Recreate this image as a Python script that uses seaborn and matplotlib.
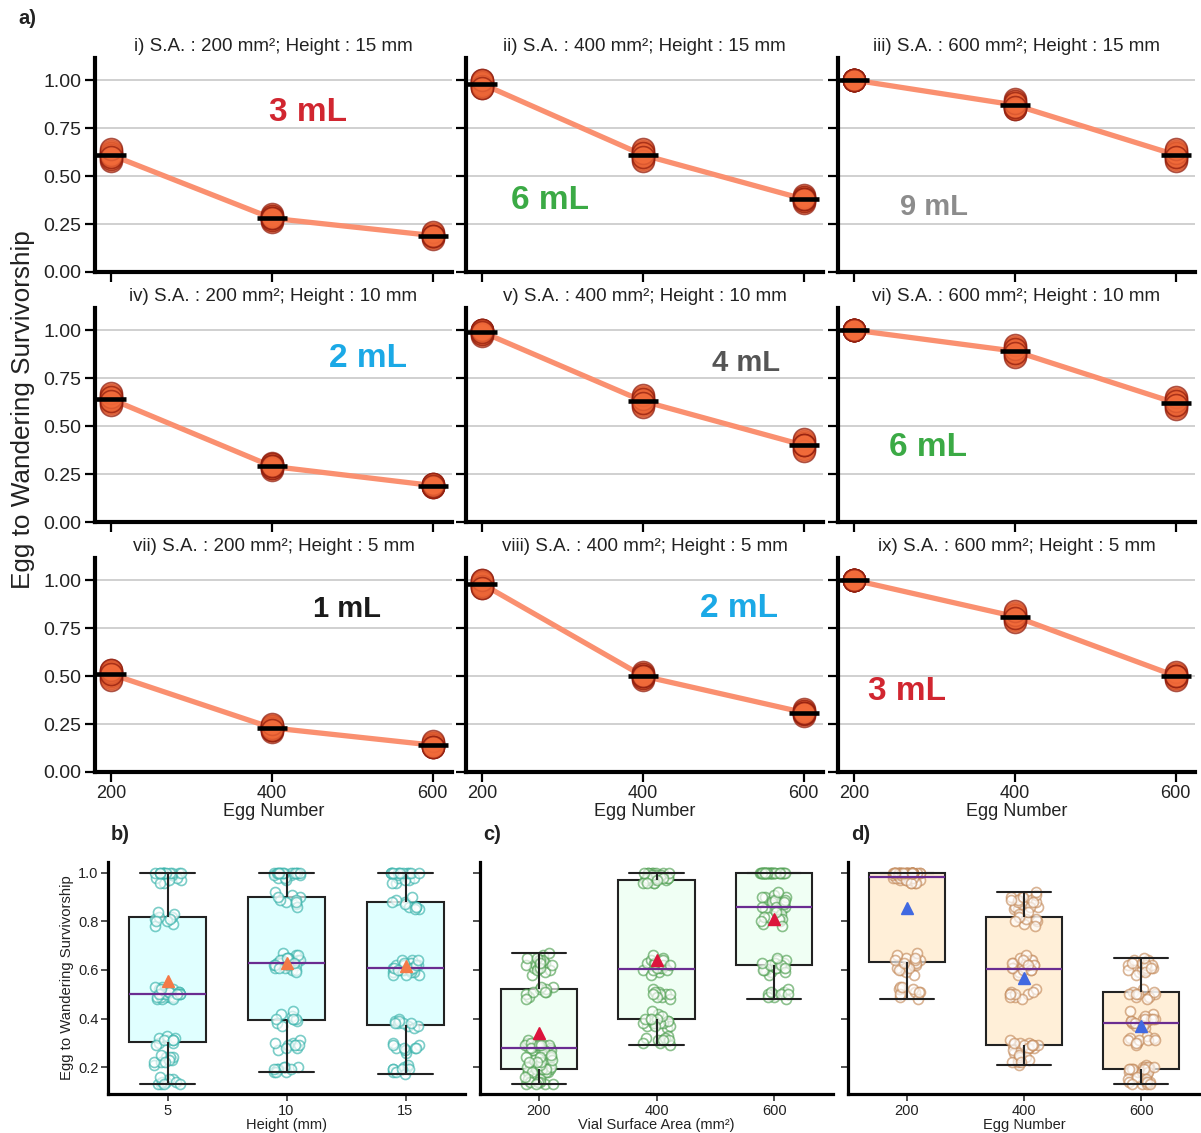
import matplotlib
matplotlib.use("Agg")
import matplotlib.pyplot as plt
import numpy as np
import pandas as pd
import seaborn as sns

# ---- data -------------------------------------------------------------
egg_numbers = [200, 400, 600]
heights = [15, 10, 5]            # rows of panel a
surface_areas = [200, 400, 600]  # columns of panel a
panel_numerals = ["i", "ii", "iii", "iv", "v", "vi", "vii", "viii", "ix"]
volume_labels = ["3 mL", "6 mL", "9 mL", "2 mL", "4 mL", "6 mL", "1 mL", "2 mL", "3 mL"]

# replicate egg-to-wandering survivorship, one list per egg number (200, 400, 600)
h15_sa200 = [[0.58, 0.60, 0.61, 0.62, 0.63, 0.62, 0.59, 0.61, 0.64, 0.60],
             [0.27, 0.28, 0.29, 0.26, 0.28, 0.30, 0.27, 0.29, 0.28, 0.28],
             [0.18, 0.19, 0.20, 0.19, 0.18, 0.20, 0.17, 0.21, 0.19, 0.19]]
h15_sa400 = [[0.97, 0.99, 1.00, 0.98, 0.96, 0.98, 0.99, 0.97, 1.00, 0.96],
             [0.60, 0.62, 0.63, 0.59, 0.61, 0.61, 0.64, 0.58, 0.62, 0.60],
             [0.37, 0.39, 0.38, 0.36, 0.40, 0.38, 0.37, 0.39, 0.38, 0.38]]
h15_sa600 = [[1.00, 1.00, 1.00, 1.00, 1.00, 1.00, 1.00, 1.00, 1.00, 1.00],
             [0.85, 0.88, 0.90, 0.86, 0.87, 0.86, 0.89, 0.85, 0.88, 0.86],
             [0.59, 0.62, 0.60, 0.63, 0.61, 0.61, 0.58, 0.62, 0.64, 0.60]]
h10_sa200 = [[0.62, 0.65, 0.66, 0.63, 0.64, 0.64, 0.61, 0.67, 0.65, 0.63],
             [0.27, 0.30, 0.29, 0.31, 0.28, 0.29, 0.30, 0.28, 0.29, 0.29],
             [0.18, 0.20, 0.19, 0.19, 0.18, 0.20, 0.19, 0.18, 0.20, 0.19]]
h10_sa400 = [[0.98, 1.00, 0.99, 0.97, 1.00, 1.00, 0.99, 0.98, 1.00, 0.99],
             [0.61, 0.64, 0.65, 0.62, 0.63, 0.63, 0.60, 0.66, 0.64, 0.62],
             [0.39, 0.42, 0.40, 0.38, 0.41, 0.40, 0.43, 0.37, 0.40, 0.40]]
h10_sa600 = [[1.00, 1.00, 1.00, 1.00, 1.00, 1.00, 1.00, 1.00, 1.00, 1.00],
             [0.87, 0.90, 0.91, 0.88, 0.89, 0.89, 0.86, 0.92, 0.90, 0.88],
             [0.60, 0.63, 0.64, 0.61, 0.62, 0.62, 0.59, 0.65, 0.63, 0.61]]
h5_sa200 = [[0.49, 0.52, 0.53, 0.50, 0.51, 0.51, 0.48, 0.52, 0.53, 0.51],
            [0.21, 0.24, 0.23, 0.22, 0.24, 0.24, 0.22, 0.23, 0.25, 0.22],
            [0.13, 0.15, 0.14, 0.13, 0.15, 0.14, 0.14, 0.16, 0.13, 0.13]]
h5_sa400 = [[0.97, 0.99, 1.00, 0.98, 0.96, 0.98, 0.99, 0.97, 1.00, 0.96],
            [0.49, 0.51, 0.50, 0.48, 0.52, 0.50, 0.51, 0.49, 0.50, 0.50],
            [0.30, 0.32, 0.31, 0.29, 0.33, 0.31, 0.30, 0.32, 0.31, 0.31]]
h5_sa600 = [[1.00, 1.00, 1.00, 1.00, 1.00, 1.00, 1.00, 1.00, 1.00, 1.00],
            [0.79, 0.82, 0.83, 0.80, 0.81, 0.81, 0.78, 0.82, 0.84, 0.80],
            [0.49, 0.51, 0.50, 0.50, 0.49, 0.51, 0.48, 0.52, 0.50, 0.50]]

replicates = {
    (15, 200): h15_sa200, (15, 400): h15_sa400, (15, 600): h15_sa600,
    (10, 200): h10_sa200, (10, 400): h10_sa400, (10, 600): h10_sa600,
    (5, 200): h5_sa200, (5, 400): h5_sa400, (5, 600): h5_sa600,
}

rows = []
for (h, sa), per_egg in replicates.items():
    for eggs, vals in zip(egg_numbers, per_egg):
        for v in vals:
            rows.append({"height": h, "sa": sa, "eggs": eggs, "surv": v})
df = pd.DataFrame(rows)

# ---- style ------------------------------------------------------------
sns.set_style("ticks")
plt.rcParams["font.family"] = ["Liberation Sans", "DejaVu Sans"]
plt.rcParams["text.color"] = "#222222"
plt.rcParams["axes.labelcolor"] = "#222222"
plt.rcParams["xtick.color"] = "#222222"
plt.rcParams["ytick.color"] = "#222222"

volume_colors = {"1 mL": "#1a1a1a", "2 mL": "#1BA9E6", "3 mL": "#D12630",
                 "4 mL": "#555555", "6 mL": "#3BAA45", "9 mL": "#8C8C8C"}
volume_sizes = [24, 24, 21, 24, 21, 24, 21, 24, 24]
volume_pos = [(445, 0.83), (284, 0.37), (299, 0.34), (519, 0.85), (528, 0.83),
              (292, 0.39), (494, 0.85), (519, 0.85), (266, 0.42)]

W, H = 1201, 1133
fig = plt.figure(figsize=(W / 100, H / 100), dpi=100)


def px_axes(left, top, right, bottom):
    return fig.add_axes([left / W, 1 - bottom / H, (right - left) / W, (bottom - top) / H])


col_left = [95, 466, 838]
row_top = [58, 308, 558]
panel_w, panel_h = 357, 214

# ---- panel a: 3x3 grid ---------------------------------------------------
k = 0
for r, h in enumerate(heights):
    for c, sa in enumerate(surface_areas):
        ax = px_axes(col_left[c], row_top[r], col_left[c] + panel_w, row_top[r] + panel_h)
        sub = df[(df.height == h) & (df.sa == sa)]
        sns.lineplot(data=sub, x="eggs", y="surv", errorbar=None, color="#FA9070",
                     linewidth=3.8, ax=ax, zorder=2)
        sns.scatterplot(data=sub, x="eggs", y="surv", s=250, color="#F26B3A",
                        edgecolor="#8E1B0C", linewidth=1.2, alpha=0.7, ax=ax, zorder=3)
        sns.lineplot(data=sub, x="eggs", y="surv", errorbar=None, linestyle="none",
                     marker="_", markersize=21, markeredgewidth=3.3,
                     markeredgecolor="black", color="black", ax=ax, zorder=4)
        ax.set_xlim(180, 624)
        ax.set_ylim(0, 1.115)
        ax.set_yticks([0, 0.25, 0.5, 0.75, 1.0])
        ax.set_xticks(egg_numbers)
        ax.yaxis.grid(True, color="#C8C8C8", linewidth=1.2)
        ax.set_axisbelow(True)
        sns.despine(ax=ax)
        for sp in ("left", "bottom"):
            ax.spines[sp].set_linewidth(3)
            ax.spines[sp].set_color("black")
        ax.tick_params(length=7, width=1.6, color="black")
        ax.tick_params(axis="y", labelsize=14, pad=3)
        ax.tick_params(axis="x", labelsize=13, pad=2)
        if c == 0:
            ax.set_yticklabels(["0.00", "0.25", "0.50", "0.75", "1.00"])
        else:
            ax.set_yticklabels([])
        ax.set_ylabel("")
        if r == 2:
            ax.set_xlabel("Egg Number", fontsize=13, labelpad=1)
        else:
            ax.set_xticklabels([])
            ax.set_xlabel("")
        ax.set_title(f"{panel_numerals[k]}) S.A. : {sa} mm²; Height : {h} mm",
                     fontsize=13.5, pad=5)
        vx, vy = volume_pos[k]
        lab = volume_labels[k]
        ax.text(vx, vy, lab, color=volume_colors[lab], fontsize=volume_sizes[k],
                fontweight="bold", ha="center", va="center")
        k += 1

fig.text(0.019, 1 - 410 / H, "Egg to Wandering Survivorship", rotation=90,
         ha="center", va="center", fontsize=18.8)
fig.text(18 / W, 1 - 19 / H, "a)", fontsize=14.5, fontweight="bold", va="center")

# ---- panels b, c, d: box + strip ----------------------------------------
np.random.seed(3)
bottom_panels = [
    ("height", [5, 10, 15], "Height (mm)", "#E0FFFF", "#35B2AA", "#F47A48", 108, 465, "b)"),
    ("sa", surface_areas, "Vial Surface Area (mm²)", "#F0FFF4", "#4E9F50", "#DC143C", 480, 833, "c)"),
    ("eggs", egg_numbers, "Egg Number", "#FFEFD8", "#C48A5A", "#4169E1", 848, 1200, "d)"),
]
for i, (col, order, xlab, fill, edge, meanc, left, right, tag) in enumerate(bottom_panels):
    ax = px_axes(left, 862, right, 1094)
    sns.boxplot(data=df, x=col, y="surv", order=order, color=fill, saturation=1,
                width=0.65, linecolor="#222222", linewidth=1.5, whis=(0, 100),
                showfliers=False, showmeans=True, capwidths=0.46,
                meanprops=dict(marker="^", markerfacecolor=meanc, markeredgecolor=meanc,
                               markersize=9),
                medianprops=dict(color="#6A2C91", linewidth=1.6), ax=ax)
    sns.stripplot(data=df, x=col, y="surv", order=order, jitter=0.12, size=7.2,
                  color="white", edgecolor=edge, linewidth=1.2, alpha=0.65, ax=ax,
                  zorder=3)
    for ln in ax.lines:
        ln.set_zorder(4)
    ax.set_ylim(0.089, 1.045)
    ax.set_xlim(-0.5, 2.5)
    ax.set_yticks([0.2, 0.4, 0.6, 0.8, 1.0])
    sns.despine(ax=ax)
    for sp in ("left", "bottom"):
        ax.spines[sp].set_linewidth(2.3)
        ax.spines[sp].set_color("black")
    ax.tick_params(length=5, width=1.2, color="#333333", labelsize=10.5, pad=2)
    ax.set_xlabel(xlab, fontsize=10.5, labelpad=0)
    if i == 0:
        ax.set_yticklabels(["0.2", "0.4", "0.6", "0.8", "1.0"])
        ax.set_ylabel("Egg to Wandering Survivorship", fontsize=10.7, labelpad=3)
    else:
        ax.set_yticklabels([])
        ax.set_ylabel("")
    fig.text((left + 3) / W, 1 - 835 / H, tag, fontsize=14.5, fontweight="bold", va="center")

fig.savefig("out.png", dpi=100)
plt.close(fig)
